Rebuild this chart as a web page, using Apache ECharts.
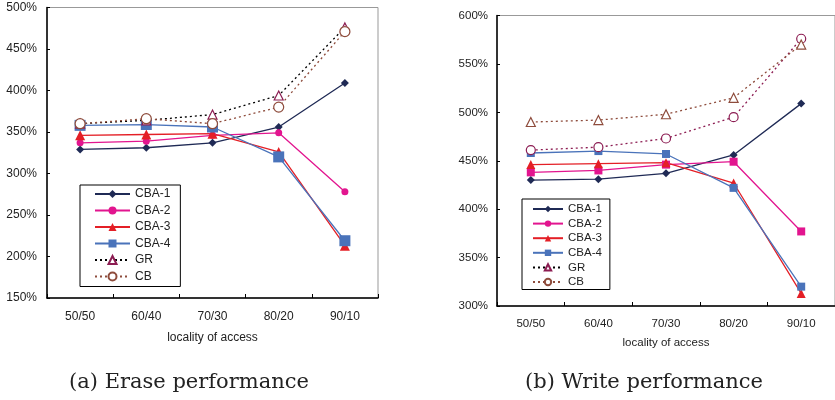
<!DOCTYPE html>
<html><head><meta charset="utf-8">
<script src="https://cdn.jsdelivr.net/npm/echarts@6/dist/echarts.min.js"></script>
<style>html,body{margin:0;padding:0;background:#fff}#c{width:835px;height:400px}</style>
</head><body><div id="c"></div>
<script>
const categories = ['50/50','60/40','70/30','80/20','90/10'];
// (a) Erase performance
const eraseCBA1 = [329, 331, 337, 356, 409];
const eraseCBA2 = [337, 339, 346, 349, 278];
const eraseCBA3 = [346, 347, 348, 326, 213];
const eraseCBA4 = [358, 359, 356, 320, 219];
const eraseGR   = [360, 364, 371, 394, 476];
const eraseCB   = [360, 366, 360, 380, 471];
// (b) Write performance
const writeCBA1 = [430, 431, 437, 456, 509];
const writeCBA2 = [438, 440, 446, 449, 377];
const writeCBA3 = [446, 447, 448, 427, 313];
const writeCBA4 = [458, 460, 457, 422, 320];
const writeGR   = [461, 464, 473, 495, 576];
const writeCB   = [490, 492, 498, 515, 570];
const legendNames = ['CBA-1','CBA-2','CBA-3','CBA-4','GR','CB'];
const xTitle = 'locality of access';
const captionA = '(a) Erase performance';
const captionB = '(b) Write performance';

const C1='#1f2a55', C2='#e2158f', C3='#e41f26', C4='#4a73ba', MAR='#8c1c52', BRN='#8e4c3c';

function mk(name, data, idx, opt){
  return Object.assign({
    name, type:'line', data, xAxisIndex:idx, yAxisIndex:idx,
    symbolSize:8, showSymbol:true, animation:false,
  }, opt);
}
function solid(color, symbol, size){
  return {symbol, symbolSize:size, lineStyle:{color, width:1.3}, itemStyle:{color, borderColor:color, borderWidth:0}};
}
function dotted(lineColor, markColor, symbol, size){
  return {symbol, symbolSize:size, lineStyle:{color:lineColor, width:1.3, type:[2,3]},
          itemStyle:{color:'#fff', borderColor:markColor, borderWidth:1.2}};
}

const chart = echarts.init(document.getElementById('c'), null, {renderer:'canvas'});
const axisCommonX = (idx, fs, margin, gap) => ({
  type:'category', gridIndex:idx, data:categories, boundaryGap:true,
  axisLine:{lineStyle:{color:'#000', width:1.5}},
  axisTick:{show:true, inside:true, length:4, lineStyle:{color:'#000'}},
  axisLabel:{fontSize:fs, color:'#222', fontFamily:'Liberation Sans, Arial', margin},
  name:xTitle, nameLocation:'middle', nameGap:gap,
  nameTextStyle:{fontSize:fs, color:'#222', fontFamily:'Liberation Sans, Arial'}
});
const axisCommonY = (idx, min, max, fs, margin) => ({
  type:'value', gridIndex:idx, min, max, interval:50,
  axisLine:{show:true, lineStyle:{color:'#000', width:1.5}},
  axisTick:{show:true, inside:true, length:3, lineStyle:{color:'#000'}},
  splitLine:{show:false},
  axisLabel:{fontSize:fs, color:'#222', fontFamily:'Liberation Sans, Arial', margin, formatter:v=>v+'%'}
});
const legendBase = {
  orient:'vertical', borderColor:'#000', borderWidth:1, backgroundColor:'#fff',
  data:legendNames,
  textStyle:{fontFamily:'Liberation Sans, Arial', color:'#222'}
};

chart.setOption({
  animation:false,
  grid:[
    {left:47, top:7.5, width:331, height:290.5, show:true, borderColor:'#999', borderWidth:1, backgroundColor:'#fff', containLabel:false},
    {left:497, top:15.5, width:340, height:290.5, show:true, borderColor:'#999', borderWidth:1, backgroundColor:'#fff', containLabel:false}
  ],
  xAxis:[axisCommonX(0, 12, 13, 34), axisCommonX(1, 11.5, 12, 31)],
  yAxis:[axisCommonY(0, 150, 500, 12, 10), axisCommonY(1, 300, 600, 11.5, 9)],
  legend:[
    Object.assign({}, legendBase, {left:80, top:185, padding:[3,10,4,14], itemWidth:35, itemHeight:10, itemGap:4.5,
      textStyle:Object.assign({}, legendBase.textStyle, {fontSize:12})}),
    Object.assign({}, legendBase, {left:522, top:199, padding:[4,8,1.5,10], itemWidth:30, itemHeight:8, itemGap:2.6,
      textStyle:Object.assign({}, legendBase.textStyle, {fontSize:11.5})})
  ],
  series:[
    mk('CBA-1', eraseCBA1, 0, solid(C1,'diamond',8)),
    mk('CBA-2', eraseCBA2, 0, solid(C2,'circle',7)),
    mk('CBA-3', eraseCBA3, 0, solid(C3,'triangle',10)),
    mk('CBA-4', eraseCBA4, 0, solid(C4,'rect',11)),
    mk('GR', eraseGR, 0, dotted('#000', MAR, 'triangle', 9)),
    mk('CB', eraseCB, 0, dotted(BRN, BRN, 'circle', 10)),
    mk('CBA-1', writeCBA1, 1, solid(C1,'diamond',8)),
    mk('CBA-2', writeCBA2, 1, solid(C2,'rect',8)),
    mk('CBA-3', writeCBA3, 1, solid(C3,'triangle',9)),
    mk('CBA-4', writeCBA4, 1, solid(C4,'rect',8)),
    mk('GR', writeGR, 1, dotted(MAR, MAR, 'circle', 9)),
    mk('CB', writeCB, 1, dotted(BRN, BRN, 'triangle', 9))
  ],
  graphic:[
    {type:'text', style:{text:captionA, x:189, y:383, align:'center', verticalAlign:'middle', font:'21px "DejaVu Serif"', fill:'#222'}},
    {type:'text', style:{text:captionB, x:644, y:383, align:'center', verticalAlign:'middle', font:'21px "DejaVu Serif"', fill:'#222'}}
  ]
});
</script></body></html>
